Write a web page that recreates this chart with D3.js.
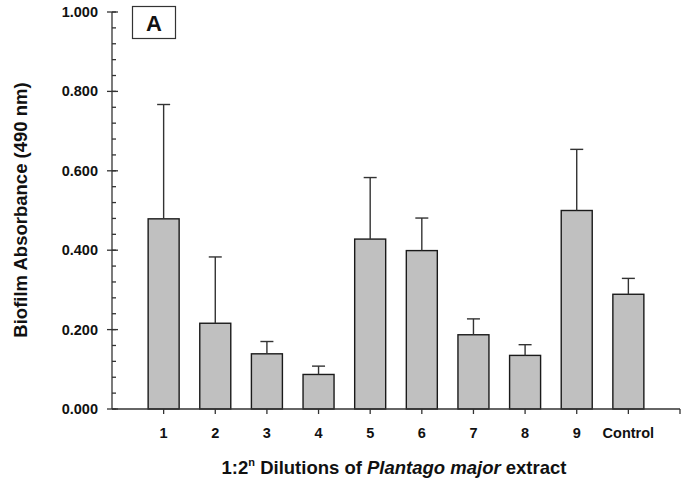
<!DOCTYPE html>
<html><head><meta charset="utf-8">
<script src="https://cdn.jsdelivr.net/npm/d3@7"></script>
<style>
body{margin:0;background:#fff;}
text{font-family:"Liberation Sans",Arial,sans-serif;font-weight:bold;fill:#111;}
</style></head>
<body><svg id="c" width="681" height="484"></svg>
<script>
const categories = ["1","2","3","4","5","6","7","8","9","Control"];
const means = [0.479,0.216,0.139,0.087,0.428,0.399,0.187,0.135,0.500,0.289];
const errTops = [0.767,0.383,0.170,0.108,0.583,0.481,0.227,0.162,0.654,0.329];
const yTicks = [0,0.2,0.4,0.6,0.8,1.0];
const yMinor = d3.range(0,1.0001,0.04);

const svg = d3.select("#c");
const x = d3.scaleLinear().domain([0,11]).range([112,680]);
const y = d3.scaleLinear().domain([0,1]).range([409,12]);
const barW = 31, capW = 13;
const axisCol = "#333";

// bars
svg.selectAll("rect.bar").data(means).join("rect")
  .attr("x",(d,i)=>x(i+1)-barW/2).attr("width",barW)
  .attr("y",d=>y(d)).attr("height",d=>y(0)-y(d))
  .attr("fill","#c0c0c0").attr("stroke","#1a1a1a").attr("stroke-width",1.4);

// error bars
const eg = svg.append("g").attr("stroke","#333").attr("stroke-width",1.4);
eg.selectAll("line.v").data(errTops).join("line")
  .attr("x1",(d,i)=>x(i+1)).attr("x2",(d,i)=>x(i+1))
  .attr("y1",(d,i)=>y(means[i])).attr("y2",d=>y(d));
eg.selectAll("line.c").data(errTops).join("line")
  .attr("x1",(d,i)=>x(i+1)-capW/2).attr("x2",(d,i)=>x(i+1)+capW/2)
  .attr("y1",d=>y(d)).attr("y2",d=>y(d));

// y axis
const ya = svg.append("g").attr("stroke",axisCol).attr("stroke-width",1.3);
ya.append("line").attr("x1",x(0)).attr("x2",x(0)).attr("y1",y(0)).attr("y2",y(1));
ya.selectAll("line.mi").data(yMinor).join("line")
  .attr("x1",x(0)).attr("x2",x(0)+4).attr("y1",d=>y(d)).attr("y2",d=>y(d));
ya.selectAll("line.ma").data(yTicks).join("line")
  .attr("x1",x(0)-5).attr("x2",x(0)+6).attr("y1",d=>y(d)).attr("y2",d=>y(d));
svg.selectAll("text.yt").data(yTicks).join("text")
  .attr("x",x(0)-14).attr("y",d=>y(d)+5).attr("text-anchor","end")
  .attr("font-size",14.5).text(d=>d3.format(".3f")(d));

// x axis
const xa = svg.append("g").attr("stroke",axisCol).attr("stroke-width",1.3);
xa.append("line").attr("x1",x(0)).attr("x2",x(11)).attr("y1",y(0)).attr("y2",y(0));
xa.selectAll("line.t").data(d3.range(1,12)).join("line")
  .attr("x1",d=>x(d)).attr("x2",d=>x(d)).attr("y1",y(0)).attr("y2",y(0)+5);
svg.selectAll("text.xt").data(categories).join("text")
  .attr("x",(d,i)=>x(i+1)).attr("y",438).attr("text-anchor","middle")
  .attr("font-size",14.5).text(d=>d);

// axis titles
svg.append("text").attr("transform","translate(27,210) rotate(-90)")
  .attr("text-anchor","middle").attr("font-size",18.5).text("Biofilm Absorbance (490 nm)");
const t = svg.append("text").attr("x",394).attr("y",474).attr("text-anchor","middle").attr("font-size",18.5);
t.append("tspan").text("1:2");
t.append("tspan").attr("font-size",11).attr("dy",-8).text("n");
t.append("tspan").attr("dy",8).text(" Dilutions of ");
t.append("tspan").attr("font-style","italic").text("Plantago major");
t.append("tspan").text(" extract");

// panel label
svg.append("rect").attr("x",132.5).attr("y",6.5).attr("width",43).attr("height",32)
  .attr("fill","none").attr("stroke","#333").attr("stroke-width",1.2);
svg.append("text").attr("x",154).attr("y",31).attr("text-anchor","middle").attr("font-size",22).text("A");
</script></body></html>
